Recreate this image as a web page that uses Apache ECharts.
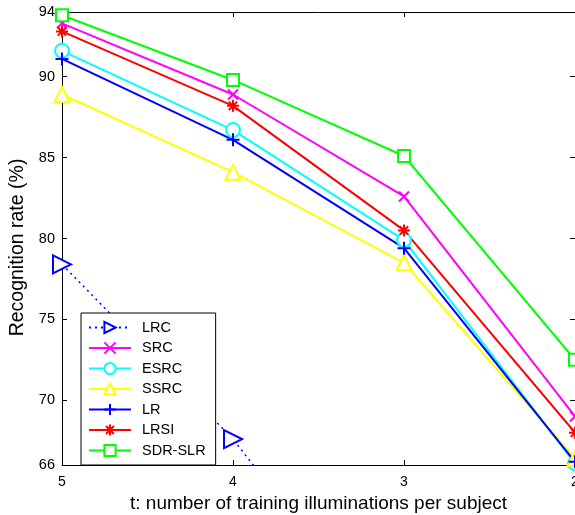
<!DOCTYPE html>
<html>
<head>
<meta charset="utf-8">
<script src="https://cdn.jsdelivr.net/npm/echarts@6/dist/echarts.min.js"></script>
<style>
    html, body { margin: 0; padding: 0; background: #fff; }
    #chart { width: 575px; height: 515px; }
</style>
</head>
<body>
<div id="chart"></div>
<script>
const categories = ['5', '4', '3', '2']
const yTicks = [66, 70, 75, 80, 85, 90, 94]

const lrc = [78.4, 67.6, 54, 40]
const src = [93.3, 88.9, 82.6, 69.0]
const esrc = [91.6, 86.7, 79.9, 66.1]
const ssrc = [88.9, 84.1, 78.5, 66.4]
const lr = [91.1, 86.1, 79.4, 66.2]
const lrsi = [92.8, 88.2, 80.5, 68.0]
const sdrslr = [93.8, 89.8, 85.1, 72.5]

const font = 'Liberation Sans, Arial, Helvetica, sans-serif'

const PLUS = 'path://M5,0L5,10M0,5L10,5'
const CROSS = 'path://M0,0L10,10M10,0L0,10'
const STAR = 'path://M5,0L5,10M0,5L10,5M1.5,1.5L8.5,8.5M8.5,1.5L1.5,8.5'

function line(name, data, color, symbol, size, extra) {
    return Object.assign({
        name: name,
        type: 'line',
        data: data,
        symbol: symbol,
        symbolSize: size,
        showAllSymbol: true,
        lineStyle: { color: color, width: 2 },
        itemStyle: { color: color, borderColor: color, borderWidth: 2 },
        emphasis: { disabled: true },
        animation: false,
    }, extra || {})
}

const chart = echarts.init(document.getElementById('chart'))

const option = {
    animation: false,
    grid: { left: 62, right: 0, top: 12, bottom: 50, outerBoundsMode: 'none' },
    legend: {
        orient: 'vertical',
        left: 81,
        top: 313,
        width: 131,
        itemWidth: 42,
        itemHeight: 14,
        itemGap: 5.5,
        padding: [7, 10, 7, 7],
        backgroundColor: '#fff',
        borderColor: '#000',
        borderWidth: 1,
        borderRadius: 0,
        textStyle: { fontFamily: font, fontSize: 14.5, color: '#000', padding: [0, 0, 0, 6] },
        data: ['LRC', 'SRC', 'ESRC', 'SSRC', 'LR', 'LRSI', 'SDR-SLR'],
    },
    xAxis: [
        {
            type: 'category',
            data: categories,
            boundaryGap: false,
            name: 't: number of training illuminations per subject',
            nameLocation: 'middle',
            nameGap: 25,
            nameTextStyle: { fontFamily: font, fontSize: 19, color: '#000' },
            axisLine: { lineStyle: { color: '#000', width: 1 } },
            axisTick: { inside: true, length: 5, alignWithLabel: true, lineStyle: { color: '#000' } },
            axisLabel: { fontFamily: font, fontSize: 14, color: '#000', margin: 10 },
            splitLine: { show: false },
        },
        {
            type: 'category',
            data: categories,
            boundaryGap: false,
            position: 'top',
            axisLine: { lineStyle: { color: '#000', width: 1 } },
            axisTick: { inside: true, length: 5, lineStyle: { color: '#000' } },
            axisLabel: { show: false },
            splitLine: { show: false },
        },
    ],
    yAxis: [
        {
            type: 'value',
            min: 66,
            max: 94,
            interval: 1,
            name: 'Recognition rate (%)',
            nameLocation: 'middle',
            nameGap: 33,
            nameTextStyle: { fontFamily: font, fontSize: 19.5, color: '#000', padding: [0, 18, 0, 0] },
            axisLine: { show: true, lineStyle: { color: '#000', width: 1 } },
            axisTick: { show: true, inside: true, length: 5, customValues: yTicks, lineStyle: { color: '#000' } },
            axisLabel: { fontFamily: font, fontSize: 14.5, color: '#000', margin: 7, customValues: yTicks },
            splitLine: { show: false },
        },
        {
            type: 'value',
            min: 66,
            max: 94,
            interval: 1,
            position: 'right',
            axisLine: { show: true, lineStyle: { color: '#000', width: 1 } },
            axisTick: { show: true, inside: true, length: 5, customValues: yTicks, lineStyle: { color: '#000' } },
            axisLabel: { show: false },
            splitLine: { show: false },
        },
    ],
    series: [
        line('LRC', lrc, '#0000ff', 'emptyTriangle', 18, {
            symbolRotate: -90,
            lineStyle: { color: '#0000ff', width: 1.5, type: [2, 4] },
        }),
        line('SRC', src, '#ff00ff', CROSS, 10),
        line('ESRC', esrc, '#00ffff', 'emptyCircle', 14),
        line('SSRC', ssrc, '#ffff00', 'emptyTriangle', 15),
        line('LR', lr, '#0000ff', PLUS, 13),
        line('LRSI', lrsi, '#ff0000', STAR, 12),
        line('SDR-SLR', sdrslr, '#00ff00', 'emptyRect', 12),
    ],
}

chart.setOption(option)
</script>
</body>
</html>
